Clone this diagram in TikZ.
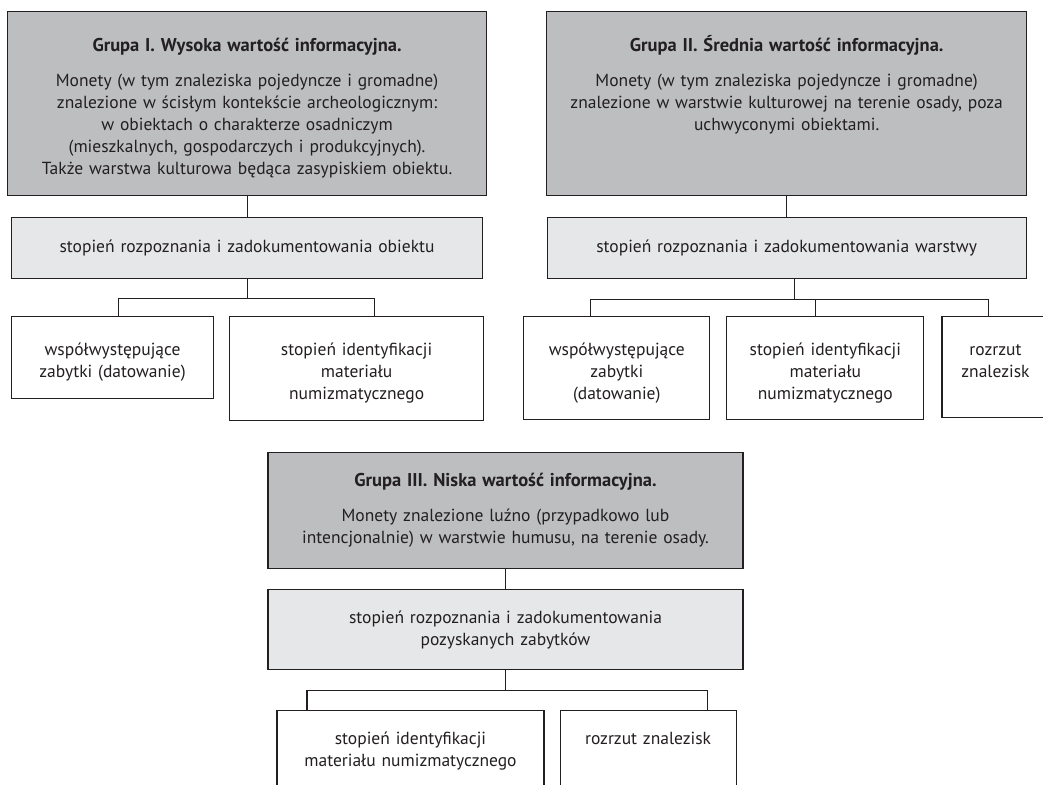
\documentclass[tikz,border=0pt]{standalone}
\usepackage{fontspec}
\setmainfont{PT Sans}
\usetikzlibrary{positioning}
\definecolor{ramka}{HTML}{231F20}
\definecolor{szary}{HTML}{BCBEC0}
\definecolor{jasny}{HTML}{E6E7E8}

\begin{document}
\begin{tikzpicture}[x=1bp, y=1bp, node distance=20bp]
      \tikzstyle{grupa} = [rectangle, draw=ramka, line width=1.1bp, fill=szary, inner sep=0pt, align=center, text=ramka, font=\fontsize{17.5bp}{21.8bp}\selectfont]
      \tikzstyle{rozpoznanie} = [rectangle, draw=ramka, line width=1.1bp, fill=jasny, inner sep=0pt, align=center, text=ramka, font=\fontsize{17.5bp}{21.8bp}\selectfont]
      \tikzstyle{cecha} = [rectangle, draw=ramka, line width=1.1bp, fill=white, inner sep=0pt, align=center, text=ramka, text height=39bp, font=\fontsize{17.5bp}{21.8bp}\selectfont]
      \tikzstyle{linia} = [draw=ramka, line width=1.1bp]

      \useasboundingbox (0,0) rectangle (1043,-785);

      \node (grupaI) [grupa, anchor=north west, text width=479bp, text height=39.5bp, text depth=144.5bp] at (7,-11) {{\fontsize{18.5bp}{21.8bp}\selectfont\bfseries Grupa I. Wysoka wartość informacyjna.}\\[14bp]
        Monety (w tym znaleziska pojedyncze i gromadne)\\ znalezione w ścisłym kontekście archeologicznym:\\ w obiektach o charakterze osadniczym\\ (mieszkalnych, gospodarczych i produkcyjnych).\\ Także warstwa kulturowa będąca zasypiskiem obiektu.};
      \node (grupaII) [grupa, right=59bp of grupaI, text width=480bp, text height=39.5bp, text depth=144.5bp] {{\fontsize{18.5bp}{21.8bp}\selectfont\bfseries Grupa II. Średnia wartość informacyjna.}\\[14bp]
        Monety (w tym znaleziska pojedyncze i gromadne)\\ znalezione w warstwie kulturowej na terenie osady, poza\\ uchwyconymi obiektami.};

      \node (rozpI) [rozpoznanie, below=21bp of grupaI, text width=471bp, minimum height=61bp] {stopień rozpoznania i zadokumentowania obiektu};
      \node (rozpII) [rozpoznanie, below=21bp of grupaII, text width=479bp, minimum height=61bp] {stopień rozpoznania i zadokumentowania warstwy};

      \draw [linia] (grupaI) -- (rozpI);
      \draw [linia] (grupaII) -- (rozpII);

      \node (wspI) [cecha, below right=37bp and 0bp of rozpI.south west, text width=202bp, text depth=43bp] {współwystępujące\\ zabytki (datowanie)};
      \node (identI) [cecha, right=15bp of wspI.north east, anchor=north west, text width=254bp, text depth=65bp] {stopień identyfikacji\\ materiału\\ numizmatycznego};
      \node (wspII) [cecha, right=39bp of identI.north east, anchor=north west, text width=186bp, text depth=64bp] {współwystępujące\\ zabytki\\ (datowanie)};
      \node (identII) [cecha, right=16bp of wspII.north east, anchor=north west, text width=197bp, text depth=64bp] {stopień identyfikacji\\ materiału\\ numizmatycznego};
      \node (rozrzutII) [cecha, right=17bp of identII.north east, anchor=north west, text width=107bp, text depth=62bp] {rozrzut\\ znalezisk};

      \draw [linia] ([xshift=0.5bp]rozpI.south) -- ++(0,-19) coordinate (wezelI);
      \draw [linia] ([xshift=5.5bp]wspI.north) |- (wezelI) -| ([xshift=18bp]identI.north);
      \draw [linia] ([xshift=8bp]rozpII.south) -- ++(0,-20) coordinate (wezelII);
      \draw [linia] ([xshift=-26bp]wspII.north) |- (wezelII) -| ([xshift=-7bp]rozrzutII.north);
      \draw [linia] ([xshift=-9.5bp]identII.north) |- (wezelII);

      \node (grupaIII) [grupa, anchor=north, text width=475bp, text height=33.5bp, text depth=82.5bp] at (505.5,-452) {{\fontsize{18.5bp}{21.8bp}\selectfont\bfseries Grupa III. Niska wartość informacyjna.}\\[14bp]
        Monety znalezione luźno (przypadkowo lub\\ intencjonalnie) w warstwie humusu, na terenie osady.};
      \node (rozpIII) [rozpoznanie, below=20bp of grupaIII, text width=475bp, minimum height=80bp] {stopień rozpoznania i zadokumentowania\\ pozyskanych zabytków};

      \draw [linia] (grupaIII) -- (rozpIII);

      \node (identIII) [cecha, below right=40bp and 9bp of rozpIII.south west, text width=267bp, text height=34bp, text depth=100bp] {stopień identyfikacji\\ materiału numizmatycznego};
      \node (rozrzutIII) [cecha, right=15bp of identIII.north east, anchor=north west, text width=176bp, text height=34bp, text depth=100bp] {rozrzut znalezisk};

      \draw [linia] (rozpIII.south) -- ++(0,-20) coordinate (wezelIII);
      \draw [linia] ([xshift=-103.5bp]identIII.north) |- (wezelIII) -| ([xshift=59bp]rozrzutIII.north);

    \end{tikzpicture}
\end{document}
